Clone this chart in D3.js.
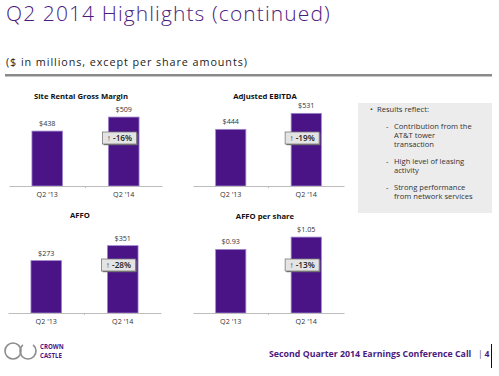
<!DOCTYPE html>
<html>
<head>
<meta charset="utf-8">
<script src="https://cdn.jsdelivr.net/npm/d3@7"></script>
<style>
  body { margin: 0; background: #fff; }
  svg { display: block; font-family: "Open Sans", sans-serif; }
</style>
</head>
<body>
<svg id="chart" width="499" height="376"></svg>
<script>
// data
const periods = ["Q2 '13", "Q2 '14"];
const metricTitles = ["Site Rental Gross Margin", "Adjusted EBITDA", "AFFO", "AFFO per share"];
const q213Values = [438, 444, 273, 0.93];
const q214Values = [509, 531, 351, 1.05];
const valueLabels = [["$438", "$509"], ["$444", "$531"], ["$273", "$351"], ["$0.93", "$1.05"]];
const growthLabels = ["-16%", "-19%", "-28%", "-13%"];
// axis extents as drawn in the source (top charts do not start at zero)
const axisMin = [160, 136, 0, 0.31];
const axisMax = [565, 571, 417, 1.09];
const bulletHead = "Results reflect:";
const bulletItems = [
    ["Contribution from the", "AT&T tower", "transaction"],
    ["High level of leasing", "activity"],
    ["Strong performance", "from network services"]
];

const purple = "#4a1487";
const svg = d3.select("#chart");

// header
svg.append("text")
    .attr("x", 6).attr("y", 21)
    .style("font-size", "21px")
    .style("font-weight", 300)
    .style("letter-spacing", "1.1px")
    .attr("fill", "#4b1b7e")
    .text("Q2 2014 Highlights (continued)");

svg.append("text")
    .attr("x", 6).attr("y", 66)
    .style("font-size", "10.8px")
    .style("letter-spacing", "0.92px")
    .attr("fill", "#222")
    .text("($ in millions, except per share amounts)");

svg.append("rect")
    .attr("x", 5).attr("y", 74)
    .attr("width", 487).attr("height", 2.5)
    .attr("fill", "#8a8a8a");

// panels
const panels = [
    {x0: 9, x1: 162, axisY: 186, titleX: 81, titleY: 98.5},
    {x0: 193, x1: 344, axisY: 186, titleX: 265, titleY: 98.5},
    {x0: 8, x1: 161, axisY: 313, titleX: 80, titleY: 218},
    {x0: 193, x1: 344, axisY: 313, titleX: 265, titleY: 218.5}
];
const plotH = 80;

panels.forEach((p, i) => {
    const g = svg.append("g").attr("class", "panel");

    const x = d3.scaleBand()
        .domain(periods)
        .range([p.x0, p.x1])
        .paddingInner(0.6)
        .paddingOuter(0.3);

    const y = d3.scaleLinear()
        .domain([axisMin[i], axisMax[i]])
        .range([p.axisY, p.axisY - plotH]);

    const rows = periods.map((d, j) => ({
        period: d,
        value: j === 0 ? q213Values[i] : q214Values[i],
        label: valueLabels[i][j]
    }));

    g.append("text")
        .attr("x", p.titleX).attr("y", p.titleY)
        .attr("text-anchor", "middle")
        .style("font-size", "7.7px")
        .style("font-weight", 700)
        .attr("fill", "#111")
        .text(metricTitles[i]);

    g.selectAll(".bar")
        .data(rows)
        .enter().append("rect")
        .attr("class", "bar")
        .attr("x", d => x(d.period))
        .attr("y", d => y(d.value))
        .attr("width", x.bandwidth())
        .attr("height", d => p.axisY - y(d.value))
        .attr("fill", purple)
        .attr("stroke", "#9d86cc")
        .attr("stroke-width", 0.8);

    g.selectAll(".val")
        .data(rows)
        .enter().append("text")
        .attr("class", "val")
        .attr("x", d => x(d.period) + x.bandwidth() / 2)
        .attr("y", d => y(d.value) - 5)
        .attr("text-anchor", "middle")
        .style("font-size", "7.2px")
        .attr("fill", "#333")
        .text(d => d.label);

    // x axis
    const axis = g.append("g")
        .attr("transform", "translate(0," + p.axisY + ")")
        .call(d3.axisBottom(x).tickSize(0).tickPadding(6));
    axis.select(".domain").attr("stroke", "#bdbdbd");
    axis.selectAll("text")
        .style("font-size", "7.2px")
        .style("font-family", "Open Sans, sans-serif")
        .attr("fill", "#333");
    axis.append("line")
        .attr("x1", (p.x0 + p.x1) / 2).attr("x2", (p.x0 + p.x1) / 2)
        .attr("y1", 0).attr("y2", 2)
        .attr("stroke", "#bdbdbd");

    // growth badge
    const bx = x(periods[1]) - 6;
    const by = p.axisY - 54;
    const badge = g.append("g").attr("transform", "translate(" + bx + "," + by + ")");
    badge.append("rect")
        .attr("x", 1.2).attr("y", 1.2)
        .attr("width", 34).attr("height", 12)
        .attr("fill", "#6d6d6d");
    badge.append("rect")
        .attr("width", 34).attr("height", 12)
        .attr("fill", "#e4e4e4")
        .attr("stroke", "#7a7a7a")
        .attr("stroke-width", 0.8);
    badge.append("text")
        .attr("x", 17).attr("y", 9)
        .attr("text-anchor", "middle")
        .style("font-size", "8.2px")
        .style("font-weight", 600)
        .attr("fill", "#222")
        .text("\u2191 " + growthLabels[i]);
});

// commentary box
svg.append("rect")
    .attr("x", 358).attr("y", 103)
    .attr("width", 134).attr("height", 110)
    .attr("fill", "#ececec");

const note = svg.append("g")
    .style("font-size", "7.6px")
    .attr("fill", "#333");
note.append("text").attr("x", 370).attr("y", 112).text("\u2022");
note.append("text").attr("x", 377).attr("y", 112).text(bulletHead);

let lineY = 128.5;
bulletItems.forEach(item => {
    note.append("text").attr("x", 386).attr("y", lineY).text("-");
    item.forEach((line, k) => {
        note.append("text").attr("x", 394).attr("y", lineY + k * 9.2).text(line);
    });
    lineY += item.length * 9.2 + 7.5;
});

// footer
const logo = svg.append("g");
logo.append("circle")
    .attr("cx", 13).attr("cy", 351).attr("r", 8)
    .attr("fill", "none").attr("stroke", "#8c8c8c").attr("stroke-width", 1.6);
const arc = d3.arc()
    .innerRadius(7.2).outerRadius(8.8)
    .startAngle(Math.PI * 0.22).endAngle(Math.PI * 1.78);
logo.append("path")
    .attr("transform", "translate(28,351)")
    .attr("d", arc())
    .attr("fill", "#8c8c8c");
logo.append("text")
    .attr("x", 40).attr("y", 349.3)
    .style("font-size", "6.1px").style("font-weight", 700)
    .attr("fill", purple)
    .text("CROWN");
logo.append("text")
    .attr("x", 40).attr("y", 357.8)
    .style("font-size", "6.1px").style("font-weight", 700)
    .attr("fill", purple)
    .text("CASTLE");

svg.append("text")
    .attr("x", 269).attr("y", 357)
    .style("font-size", "8.8px").style("font-weight", 700)
    .attr("fill", "#4b1b7e")
    .text("Second Quarter 2014 Earnings Conference Call");
svg.append("text")
    .attr("x", 478).attr("y", 357)
    .style("font-size", "8.6px")
    .attr("fill", "#555")
    .text("|");
svg.append("text")
    .attr("x", 484.5).attr("y", 357)
    .style("font-size", "8.6px").style("font-weight", 700)
    .attr("fill", "#4b1b7e")
    .text("4");
svg.append("line")
    .attr("x1", 491.5).attr("x2", 491.5)
    .attr("y1", 344).attr("y2", 368)
    .attr("stroke", "#111").attr("stroke-width", 1);
</script>
</body>
</html>
